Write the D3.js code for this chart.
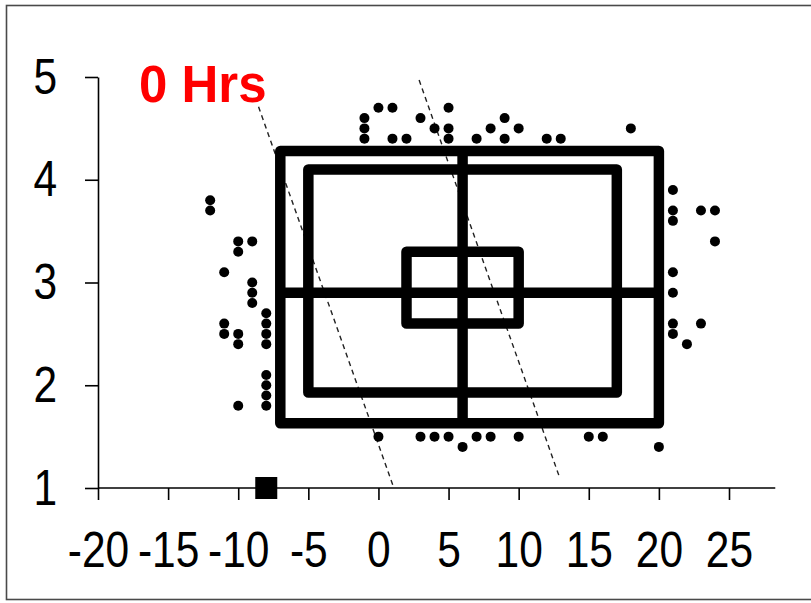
<!DOCTYPE html>
<html>
<head>
  <meta charset="utf-8">
  <script src="https://d3js.org/d3.v7.min.js"></script>
  <style>
    body { margin: 0; background: #fff; }
    svg { display: block; }
  </style>
</head>
<body>
<script type="text/javascript">

// scatter points (x = horizontal value, y = vertical value)
var dotX = [-12, -12, -10, -10, -9, -11, -9, -9, -9, -11, -11, -10, -10, -8, -8, -8, -8, -8, -8, -8, -8, -10,
            -1, -1, -1, 0, 1, 1, 2, 3, 4, 5, 5, 5, 7, 8, 9, 9, 10, 12, 13, 18,
            0, 3, 4, 5, 6, 7, 8, 10, 15, 16, 20,
            21, 21, 21, 23, 24, 24, 21, 21, 21, 21, 23, 22];
var dotY = [3.8, 3.7, 3.4, 3.3, 3.4, 3.1, 3.0, 2.9, 2.8, 2.6, 2.5, 2.5, 2.4, 2.7, 2.6, 2.5, 2.4, 2.1, 2.0, 1.9, 1.8, 1.8,
            4.6, 4.5, 4.4, 4.7, 4.7, 4.4, 4.4, 4.6, 4.5, 4.7, 4.5, 4.4, 4.4, 4.5, 4.6, 4.4, 4.5, 4.4, 4.4, 4.5,
            1.5, 1.5, 1.5, 1.5, 1.4, 1.5, 1.5, 1.5, 1.5, 1.5, 1.4,
            3.9, 3.7, 3.6, 3.7, 3.7, 3.4, 3.1, 2.9, 2.6, 2.5, 2.6, 2.4];

// the three boxes: outer, inner, centre
var boxLeft   = [-7, -5, 2];
var boxRight  = [20, 17, 10];
var boxTop    = [4.28, 4.1, 3.3];
var boxBottom = [1.63, 1.93, 2.6];

// cross through the outer box
var crossX = 6;
var crossY = 2.9;

// the two dashed diagonals
var dashX1 = [-8.55, 2.9];
var dashY1 = [4.71, 4.97];
var dashX2 = [1.1, 12.9];
var dashY2 = [1.0, 1.11];

// square marker on the axis
var markerX = [-8];
var markerY = [1];

var xTicks = [-20, -15, -10, -5, 0, 5, 10, 15, 20, 25];
var yTicks = [1, 2, 3, 4, 5];

var w = 811, h = 603;

var svg = d3.select("body")
            .append("svg")
            .attr("width", w)
            .attr("height", h);

/*************************************************************************************************/
/* frame */

svg.append("rect")
   .attr("x", 6.5).attr("y", 5.5)
   .attr("width", 808).attr("height", 594)
   .attr("fill", "none")
   .attr("stroke", "#4a4a4a")
   .attr("stroke-width", 1.6);

var x = d3.scaleLinear().domain([-20, 25]).range([98, 729]);
var y = d3.scaleLinear().domain([1, 5]).range([488, 77]);

var labelFont = "'Liberation Sans', Arial, sans-serif";
var squeeze = 0.85;
var plain = function(d) { return String(d); };

/*************************************************************************************************/
/* axes */

var xAxis = svg.append("g")
               .attr("transform", "translate(0," + y(1) + ")")
               .call(d3.axisBottom(x).tickValues(xTicks).tickFormat(plain)
                       .tickSize(12).tickPadding(32).tickSizeOuter(0));

xAxis.select(".domain").remove();
xAxis.append("line")
     .attr("x1", x(-20)).attr("x2", x(28.3))
     .attr("stroke", "#000").attr("stroke-width", 1.6);

var yAxis = svg.append("g")
               .attr("transform", "translate(" + x(-20) + ",0)")
               .call(d3.axisLeft(y).tickValues(yTicks).tickFormat(plain)
                       .tickSize(13).tickPadding(35).tickSizeOuter(0));

[xAxis, yAxis].forEach(function(a) {
    a.selectAll("line").attr("stroke", "#000").attr("stroke-width", 1.6);
    a.select(".domain").attr("stroke", "#000").attr("stroke-width", 1.6);
    a.selectAll("text")
     .attr("fill", "#000")
     .style("font-family", labelFont)
     .style("font-size", "50px")
     .attr("transform", "scale(" + squeeze + ",1)");
});

/*************************************************************************************************/
/* dashed diagonals */

var diag = d3.line().x(function(d) { return x(d[0]); }).y(function(d) { return y(d[1]); });

svg.append("g").selectAll("path")
   .data(d3.range(dashX1.length))
   .enter()
   .append("path")
   .attr("d", function(i) { return diag([[dashX1[i], dashY1[i]], [dashX2[i], dashY2[i]]]); })
   .attr("fill", "none")
   .attr("stroke", "#222")
   .attr("stroke-width", 1.4)
   .attr("stroke-dasharray", "5,4");

/*************************************************************************************************/
/* boxes and cross */

svg.append("g").selectAll("rect")
   .data(d3.range(boxLeft.length))
   .enter()
   .append("rect")
   .attr("x", function(i) { return x(boxLeft[i]); })
   .attr("y", function(i) { return y(boxTop[i]); })
   .attr("width", function(i) { return x(boxRight[i]) - x(boxLeft[i]); })
   .attr("height", function(i) { return y(boxBottom[i]) - y(boxTop[i]); })
   .attr("fill", "none")
   .attr("stroke", "#000")
   .attr("stroke-width", 10.5)
   .attr("stroke-linejoin", "round");

svg.append("line")
   .attr("x1", x(crossX)).attr("x2", x(crossX))
   .attr("y1", y(boxTop[0])).attr("y2", y(boxBottom[0]))
   .attr("stroke", "#000").attr("stroke-width", 10.5);

svg.append("line")
   .attr("x1", x(boxLeft[0])).attr("x2", x(boxRight[0]))
   .attr("y1", y(crossY)).attr("y2", y(crossY))
   .attr("stroke", "#000").attr("stroke-width", 10.5);

/*************************************************************************************************/
/* points */

svg.append("g").selectAll("circle")
   .data(d3.range(dotX.length))
   .enter()
   .append("circle")
   .attr("cx", function(i) { return x(dotX[i]); })
   .attr("cy", function(i) { return y(dotY[i]); })
   .attr("r", 5)
   .attr("fill", "#000");

svg.append("g").selectAll("rect")
   .data(d3.range(markerX.length))
   .enter()
   .append("rect")
   .attr("x", function(i) { return x(markerX[i]) - 11; })
   .attr("y", function(i) { return y(markerY[i]) - 11; })
   .attr("width", 22).attr("height", 22)
   .attr("fill", "#000");

/*************************************************************************************************/
/* title */

svg.append("text")
   .attr("x", 139).attr("y", 102)
   .text("0 Hrs")
   .style("font-family", labelFont)
   .style("font-weight", "bold")
   .style("font-size", "51px")
   .attr("fill", "#ff0000");

</script>
</body>
</html>
